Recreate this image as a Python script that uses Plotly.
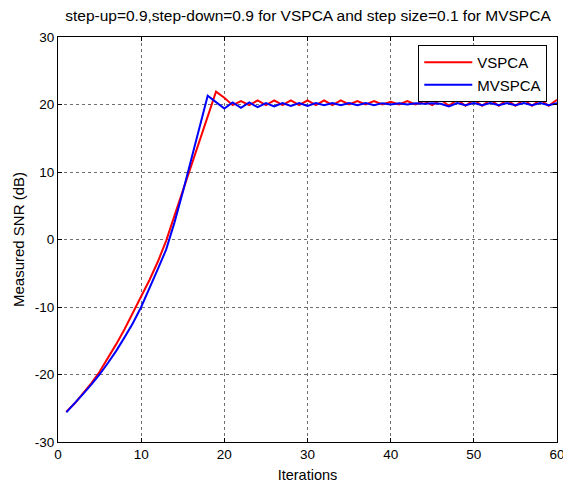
import plotly.graph_objects as go

iterations = list(range(1, 61))

vspca = [-25.5, -24.3, -22.8, -21.3, -19.6, -17.6, -15.5, -13.3, -10.9, -8.5,
         -6.0, -3.3, -0.2, 3.5, 7.2, 11.1, 14.7, 18.3, 21.9, 21.0,
         19.9, 20.5, 19.9, 20.6, 19.9, 20.6, 19.9, 20.6, 19.9, 20.6,
         19.9, 20.6, 19.9, 20.6, 20.0, 20.5, 20.0, 20.5, 20.0, 20.4,
         20.0, 20.5, 20.0, 20.5, 19.9, 20.7, 19.8, 20.7, 19.8, 20.7,
         19.8, 20.7, 19.8, 20.7, 19.8, 20.7, 19.8, 20.7, 19.8, 20.7]

mvspca = [-25.6, -24.3, -22.9, -21.5, -20.0, -18.3, -16.5, -14.5, -12.4, -10.0,
          -7.3, -4.4, -1.5, 2.5, 7.0, 11.8, 16.6, 21.3, 20.35, 19.4,
          20.3, 19.5, 20.3, 19.6, 20.2, 19.7, 20.2, 19.8, 20.2, 19.8,
          20.2, 19.9, 20.2, 19.9, 20.2, 19.9, 20.2, 19.9, 20.2, 20.0,
          20.2, 20.0, 20.2, 20.1, 20.2, 20.1, 19.7, 20.2, 19.9, 20.2,
          19.9, 20.2, 19.9, 20.2, 19.9, 20.2, 19.9, 20.2, 19.9, 20.2]

x_ticks = [0, 10, 20, 30, 40, 50, 60]
x_tick_labels = ["0", "10", "20", "30", "40", "50", "60"]
y_ticks = [-30, -20, -10, 0, 10, 20, 30]
y_tick_labels = ["-30", "-20", "-10", "0", "10", "20", "30"]

title_text = "step-up=0.9,step-down=0.9 for VSPCA and step size=0.1 for MVSPCA"

FONT = "Liberation Sans, Arial, sans-serif"

fig = go.Figure()
fig.add_trace(go.Scatter(x=iterations, y=vspca, mode="lines", name="VSPCA",
                         line=dict(color="#ff0000", width=2)))
fig.add_trace(go.Scatter(x=iterations, y=mvspca, mode="lines", name="MVSPCA",
                         line=dict(color="#0000ff", width=2)))

axis_common = dict(
    showline=True, linecolor="black", linewidth=1, mirror="ticks",
    ticks="inside", ticklen=4, tickcolor="black",
    showgrid=True, gridcolor="#6f6f6f", griddash="dot", gridwidth=1,
    zeroline=False, automargin=False, ticklabeloverflow="allow",
    tickfont=dict(family=FONT, size=13.5, color="black"),
)

fig.update_xaxes(range=[0, 60], tickvals=x_ticks, ticktext=x_tick_labels,
                 title=dict(text="Iterations", font=dict(family=FONT, size=14.5, color="black"), standoff=8),
                 **axis_common)
fig.update_yaxes(range=[-30, 30], tickvals=y_ticks, ticktext=y_tick_labels,
                 title=dict(text="Measured SNR (dB)", font=dict(family=FONT, size=15, color="black"), standoff=6),
                 **axis_common)

fig.update_layout(
    width=563, height=485, autosize=False,
    margin=dict(l=58, r=6, t=37, b=43),
    plot_bgcolor="white", paper_bgcolor="white",
    title=dict(text=title_text, x=0.547, xanchor="center", y=0.967, yanchor="middle",
               yref="container", font=dict(family=FONT, size=15.5, color="black"),
               automargin=False),
    legend=dict(x=0.722, y=0.98, xanchor="left", yanchor="top",
                bgcolor="white", bordercolor="black", borderwidth=1,
                font=dict(family=FONT, size=15, color="black"),
                tracegroupgap=0, itemwidth=48),
    showlegend=True,
)

fig.write_html("out.html", config={"displayModeBar": False},
               post_script="document.body.style.margin='0';document.body.style.overflow='hidden';")
